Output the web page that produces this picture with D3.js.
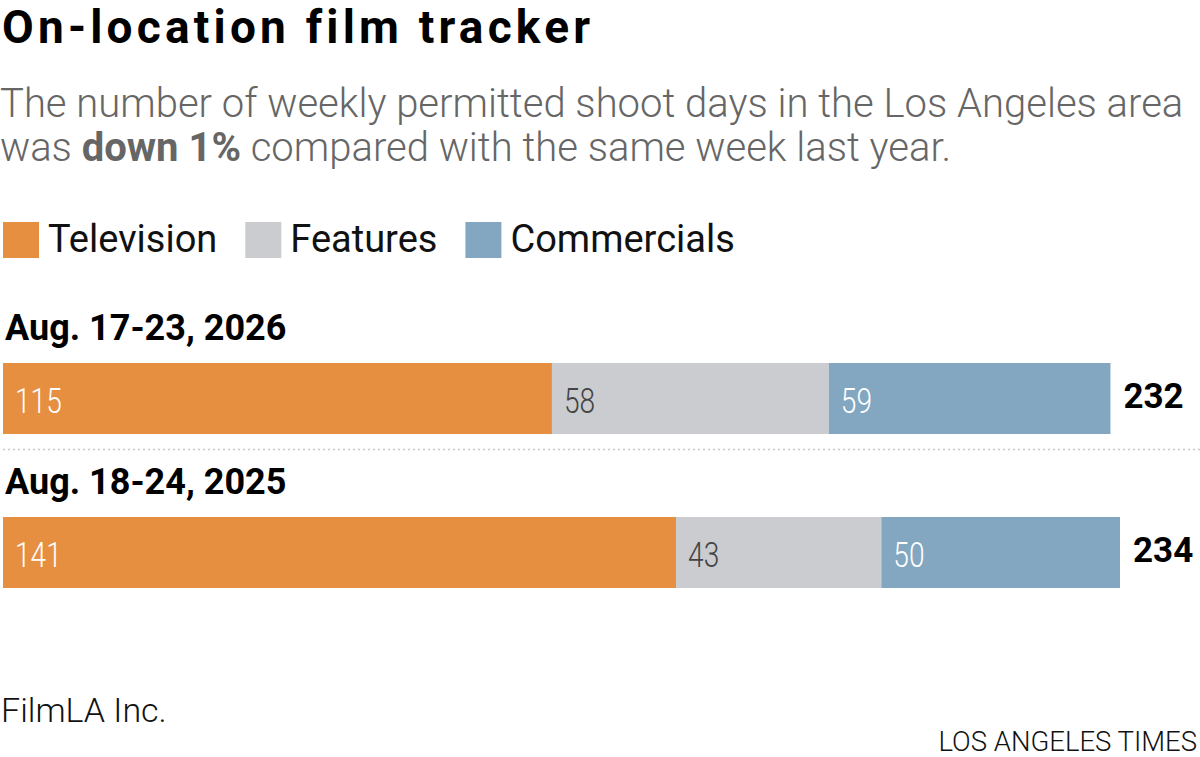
<!DOCTYPE html>
<html>
<head>
<meta charset="utf-8">
<script src="https://cdn.jsdelivr.net/npm/d3@7"></script>
<style>
  body { margin: 0; background: #fff; }
  svg { display: block; font-family: Roboto, "Liberation Sans", sans-serif; }
</style>
</head>
<body>
<svg id="chart"></svg>
<script>
// Weekly permitted shoot days, LA area
const categories = ["Television", "Features", "Commercials"];
const weeks = ["Aug. 17-23, 2026", "Aug. 18-24, 2025"];
const television = [115, 141];
const features = [58, 43];
const commercials = [59, 50];

const colors = ["#e68f41", "#cbccd0", "#83a7c1"];
const labelColors = ["#fff", "#444", "#fff"];

const width = 1200, height = 757;
const svg = d3.select("#chart").attr("width", width).attr("height", height);

const rows = weeks.map((w, i) => ({
  week: w,
  Television: television[i],
  Features: features[i],
  Commercials: commercials[i]
}));
rows.forEach(d => d.total = d.Television + d.Features + d.Commercials);

const series = d3.stack().keys(categories)(rows);

const x = d3.scaleLinear()
  .domain([0, d3.max(rows, d => d.total)])
  .range([3, 1120]);

// two bars, 71px tall, 154px apart
const y = d3.scaleBand()
  .domain(weeks)
  .range([363, 588])
  .paddingInner(0.539)
  .paddingOuter(0)
  .align(0);
const barH = y.bandwidth();

// title + subtitle
svg.append("text")
  .attr("x", 2).attr("y", 43)
  .attr("font-size", 46).attr("font-weight", 700)
  .attr("letter-spacing", 4.2)
  .attr("fill", "#000")
  .text("On-location film tracker");

const sub = svg.append("g").attr("fill", "#666").attr("font-size", 40).attr("font-weight", 300);
sub.append("text").attr("x", 0).attr("y", 117)
  .text("The number of weekly permitted shoot days in the Los Angeles area");
const s2 = sub.append("text").attr("x", 0).attr("y", 161);
s2.append("tspan").text("was ");
s2.append("tspan").attr("font-weight", 700).text("down 1%");
s2.append("tspan").text(" compared with the same week last year.");

// legend
const legend = svg.append("g").attr("transform", "translate(3,222)");
let lx = 0;
categories.forEach((c, i) => {
  const g = legend.append("g").attr("transform", `translate(${lx},0)`);
  g.append("rect").attr("width", 36).attr("height", 36).attr("fill", colors[i]);
  const t = g.append("text").attr("x", 45).attr("y", 30)
    .attr("font-size", 38).attr("fill", "#111").text(c);
  lx += 45 + t.node().getComputedTextLength() + 28;
});

// week labels
svg.selectAll(".week")
  .data(rows)
  .join("text")
  .attr("class", "week")
  .attr("x", 5)
  .attr("y", d => y(d.week) - 23)
  .attr("font-size", 36).attr("font-weight", 700).attr("fill", "#000")
  .text(d => d.week);

// dotted separator
svg.append("line")
  .attr("x1", 3).attr("x2", 1200)
  .attr("y1", 449.5).attr("y2", 449.5)
  .attr("stroke", "#c8c8c8").attr("stroke-width", 1.5)
  .attr("stroke-dasharray", "2,3");

// bars
const layer = svg.selectAll(".layer")
  .data(series)
  .join("g")
  .attr("class", "layer");

layer.selectAll("rect")
  .data(d => d.map(v => ({ v, index: d.index })))
  .join("rect")
  .attr("x", d => x(d.v[0]))
  .attr("y", d => y(d.v.data.week))
  .attr("width", d => x(d.v[1]) - x(d.v[0]))
  .attr("height", barH)
  .attr("fill", d => colors[d.index]);

// value labels (narrowed to mimic the condensed face)
layer.selectAll("text")
  .data(d => d.map(v => ({ v, index: d.index })))
  .join("text")
  .attr("transform", d => `translate(${x(d.v[0]) + 12},${y(d.v.data.week) + 50}) scale(0.78,1)`)
  .attr("font-size", 36).attr("font-weight", 300)
  .attr("fill", d => labelColors[d.index])
  .text(d => d.v[1] - d.v[0]);

// totals
svg.selectAll(".total")
  .data(rows)
  .join("text")
  .attr("class", "total")
  .attr("x", d => x(d.total) + 13)
  .attr("y", d => y(d.week) + 45)
  .attr("font-size", 35).attr("font-weight", 700).attr("fill", "#000")
  .text(d => d.total);

// footer
svg.append("text")
  .attr("x", 1).attr("y", 722)
  .attr("font-size", 34).attr("font-weight", 300).attr("fill", "#111")
  .text("FilmLA Inc.");
svg.append("text")
  .attr("x", 1197).attr("y", 751)
  .attr("text-anchor", "end")
  .attr("font-size", 27.5).attr("font-weight", 300).attr("fill", "#111")
  .text("LOS ANGELES TIMES");
</script>
</body>
</html>
